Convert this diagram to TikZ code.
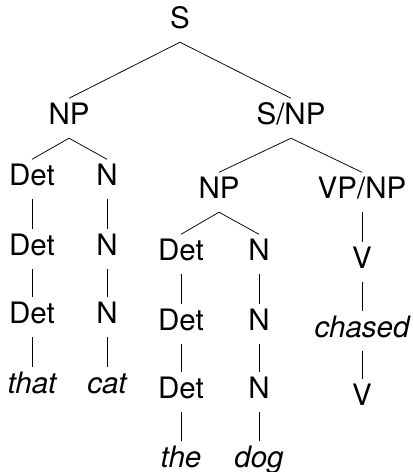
\documentclass[tikz,border=0pt]{standalone}
\usepackage{fontspec}
\setmainfont{TeX Gyre Heros}
\begin{document}
\begin{tikzpicture}[x=1pt,y=-1pt,
  lab/.style={anchor=base, inner sep=0pt, text height=25.5pt, text depth=14pt, font=\fontsize{29.5}{34}\selectfont},
  word/.style={lab, font=\fontsize{29.5}{34}\selectfont\itshape},
  br/.style={line width=0.75pt}]
\useasboundingbox (0,0) rectangle (413,472);
% nodes
\node[lab] (S) at (180,28) {S};
\node[lab] (NPl) at (69,124) {NP};
\node[lab] (SNP) at (291,124) {S/NP};
\node[lab] (D1l) at (32,185) {Det};
\node[lab] (N1l) at (107,185) {N};
\node[lab] (D2l) at (32,255) {Det};
\node[lab] (N2l) at (107,255) {N};
\node[lab] (D3l) at (32,323) {Det};
\node[lab] (N3l) at (107,323) {N};
\node[word] (that) at (32,393) {that};
\node[word] (cat) at (107,393) {cat};
\node[lab] (NPr) at (219,198) {NP};
\node[lab] (VPNP) at (362,198) {VP/NP};
\node[lab] (D1r) at (181,260) {Det};
\node[lab] (N1r) at (259,260) {N};
\node[lab] (D2r) at (181,330) {Det};
\node[lab] (N2r) at (259,330) {N};
\node[lab] (D3r) at (181,398) {Det};
\node[lab] (N3r) at (259,398) {N};
\node[word] (the) at (181,467) {the};
\node[word] (dog) at (259,467) {dog};
\node[lab] (V1) at (362,268) {V};
\node[word] (chased) at (362,337) {chased};
\node[lab] (V2) at (362,405) {V};
% branches
\draw[br] (S.south) -- (NPl.north);
\draw[br] (S.south) -- (SNP.north);
\draw[br] (NPl.south) -- (D1l.north);
\draw[br] (NPl.south) -- (N1l.north);
\draw[br] (D1l.south) -- (D2l.north);
\draw[br] (D2l.south) -- (D3l.north);
\draw[br] (D3l.south) -- (that.north);
\draw[br] (N1l.south) -- (N2l.north);
\draw[br] (N2l.south) -- (N3l.north);
\draw[br] (N3l.south) -- (cat.north);
\draw[br] (SNP.south) -- (NPr.north);
\draw[br] (SNP.south) -- (VPNP.north);
\draw[br] (NPr.south) -- (D1r.north);
\draw[br] (NPr.south) -- (N1r.north);
\draw[br] (D1r.south) -- (D2r.north);
\draw[br] (D2r.south) -- (D3r.north);
\draw[br] (D3r.south) -- (the.north);
\draw[br] (N1r.south) -- (N2r.north);
\draw[br] (N2r.south) -- (N3r.north);
\draw[br] (N3r.south) -- (dog.north);
\draw[br] (VPNP.south) -- (V1.north);
\draw[br] (V1.south) -- (chased.north);
\draw[br] (chased.south) -- (V2.north);
\end{tikzpicture}
\end{document}
